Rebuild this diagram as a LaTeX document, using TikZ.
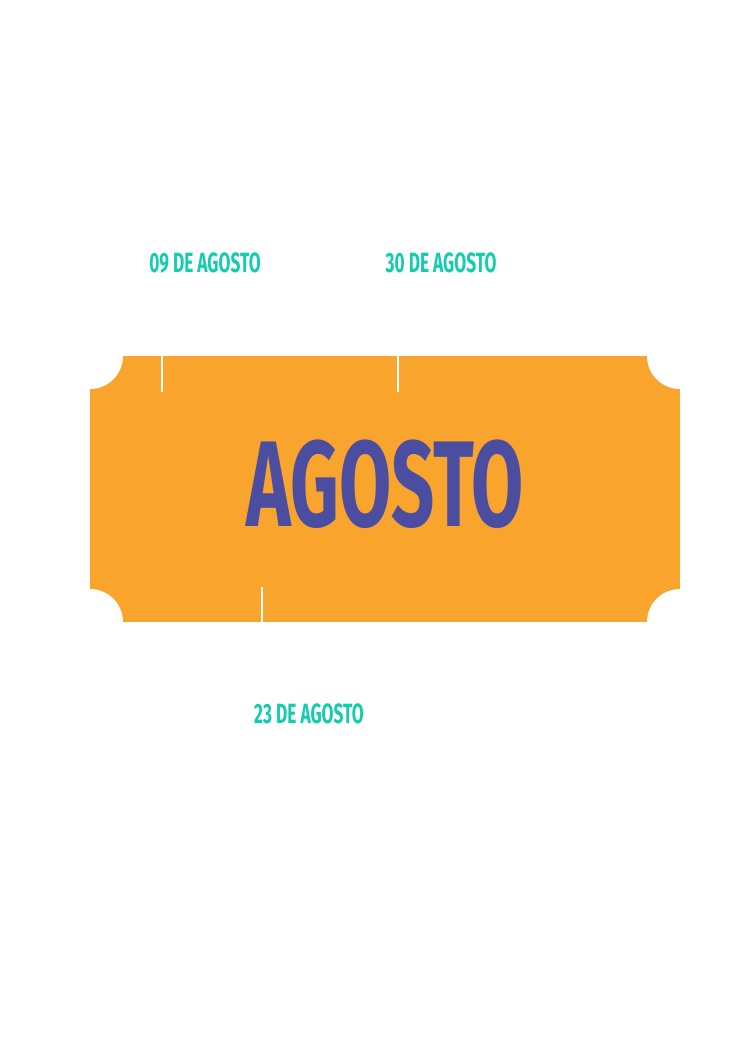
\documentclass[tikz,border=0pt]{standalone}
\usepackage{fontspec}
\newfontfamily\bebas[FakeStretch=0.62]{Fira Sans}
\definecolor{tktorange}{HTML}{F9A42D}
\definecolor{tktpurple}{HTML}{4B4EA0}
\definecolor{tktteal}{HTML}{14CCAE}
\tikzset{
  datelabel/.style={text=tktteal,font=\bebas\bfseries\fontsize{21}{21}\selectfont,inner sep=0pt},
  notch/.style={white,line width=1.5pt}
}
\begin{document}
\begin{tikzpicture}[x=0.0265cm,y=-0.0265cm]
\useasboundingbox[fill=white] (0,0) rectangle (745,1064);
% ticket
\fill[tktorange] (90,356) rectangle (680,622);
\foreach \cx/\cy in {90/356,680/356,90/622,680/622}
  \fill[white] (\cx,\cy) circle (33);
\draw[notch] (162,356) -- (162,392);
\draw[notch] (398,356) -- (398,392);
\draw[notch] (262,587) -- (262,622);
\node[text=tktpurple,font=\bebas\bfseries\fontsize{92}{92}\selectfont,inner sep=0pt] (title) at (385,484) {AGOSTO};
% dates
\node[datelabel] (d09) at (205,263) {09 DE AGOSTO};
\node[datelabel] (d30) at (441,263) {30 DE AGOSTO};
\node[datelabel] (d23) at (309,714) {23 DE AGOSTO};
\end{tikzpicture}
\end{document}
